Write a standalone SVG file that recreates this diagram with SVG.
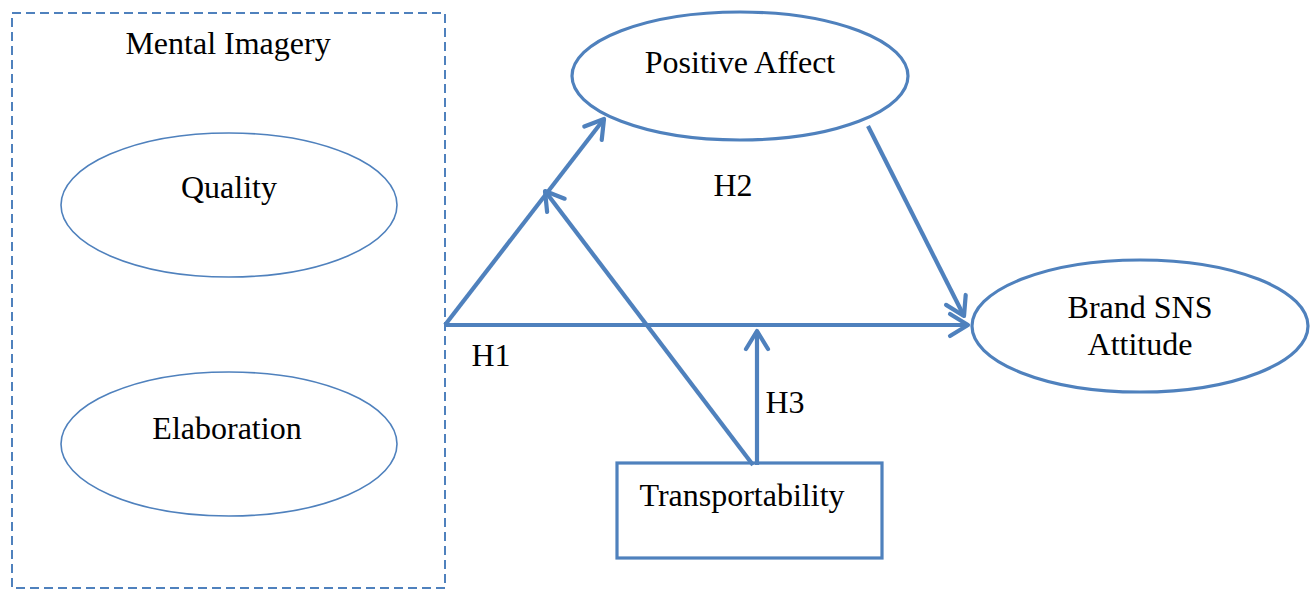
<svg xmlns="http://www.w3.org/2000/svg" width="1315" height="590" viewBox="0 0 1315 590">
<style>
text{font-family:"Liberation Serif","Times New Roman",serif;font-size:32px;fill:#000}
.thin{fill:none;stroke:#4F81BD;stroke-width:1.6}
.thick{fill:none;stroke:#4F81BD;stroke-width:3.2}
.conn{fill:none;stroke:#4F81BD;stroke-width:4.2}
</style>
<defs>
<marker id="arr" markerUnits="userSpaceOnUse" markerWidth="30" markerHeight="30" viewBox="-22 -15 26 30" refX="0" refY="0" orient="auto">
<path d="M-18,-11 L0,0 L-18,11" fill="none" stroke="#4F81BD" stroke-width="4.2" stroke-linecap="round" stroke-linejoin="round"/>
</marker>
</defs>
<g id="mental-imagery">
<rect x="12" y="13" width="433" height="575" fill="none" stroke="#4F81BD" stroke-width="2" stroke-dasharray="9,5"/>
<text x="228" y="54" text-anchor="middle">Mental Imagery</text>
</g>
<g id="quality">
<ellipse class="thin" cx="229" cy="205" rx="168" ry="72"/>
<text x="229" y="198" text-anchor="middle">Quality</text>
</g>
<g id="elaboration">
<ellipse class="thin" cx="229" cy="444" rx="168" ry="72"/>
<text x="227" y="439" text-anchor="middle">Elaboration</text>
</g>
<g id="positive-affect">
<ellipse class="thick" cx="740" cy="76" rx="168" ry="64"/>
<text x="740" y="73" text-anchor="middle">Positive Affect</text>
</g>
<g id="brand-sns">
<ellipse class="thick" cx="1140" cy="326" rx="168" ry="66"/>
<text x="1140" y="318" text-anchor="middle">Brand SNS</text>
<text x="1140" y="355" text-anchor="middle">Attitude</text>
</g>
<g id="transportability">
<rect class="thick" x="617" y="463" width="265" height="95"/>
<text x="742" y="506" text-anchor="middle">Transportability</text>
</g>
<g id="connectors">
<line class="conn" x1="445" y1="325" x2="604" y2="119" marker-end="url(#arr)"/>
<line class="conn" x1="445" y1="325" x2="968" y2="325" marker-end="url(#arr)"/>
<line class="conn" x1="753" y1="465" x2="545" y2="191" marker-end="url(#arr)"/>
<line class="conn" x1="757" y1="465" x2="757" y2="331" marker-end="url(#arr)"/>
<line class="conn" x1="868" y1="126" x2="964" y2="316" marker-end="url(#arr)"/>
<text x="733" y="196" text-anchor="middle">H2</text>
<text x="491" y="366" text-anchor="middle">H1</text>
<text x="785" y="413" text-anchor="middle">H3</text>
</g>
</svg>
